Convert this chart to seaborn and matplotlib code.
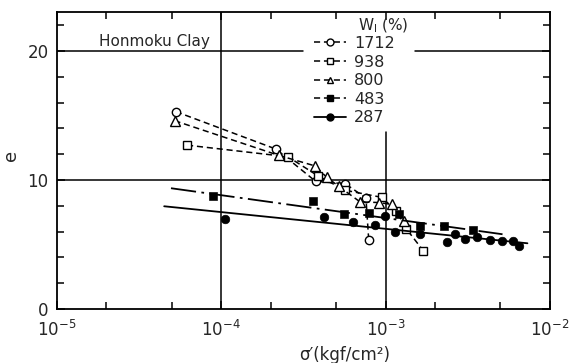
import numpy as np
import pandas as pd
import seaborn as sns
import matplotlib
matplotlib.use('Agg')
import matplotlib.pyplot as plt
from matplotlib.lines import Line2D
from matplotlib.ticker import LogLocator, FixedLocator, MultipleLocator, NullFormatter

# data (sigma' in kgf/cm2, e)
s_1712 = [5.3e-5, 2.15e-4, 3.75e-4, 5.7e-4, 7.6e-4, 7.9e-4]
e_1712 = [15.3, 12.4, 9.9, 9.7, 8.6, 5.35]
s_938 = [6.2e-5, 2.55e-4, 3.9e-4, 5.7e-4, 9.5e-4, 1.16e-3, 1.34e-3, 1.7e-3]
e_938 = [12.7, 11.8, 10.3, 9.2, 8.65, 7.6, 6.2, 4.5]
s_800 = [5.2e-5, 2.25e-4, 3.7e-4, 4.4e-4, 5.2e-4, 7.0e-4, 9.1e-4, 1.1e-3, 1.3e-3]
e_800 = [14.6, 11.9, 11.1, 10.2, 9.5, 8.3, 8.25, 8.1, 6.8]
s_483 = [8.9e-5, 3.6e-4, 5.6e-4, 7.9e-4, 1.2e-3, 1.62e-3, 2.27e-3, 3.4e-3]
e_483 = [8.75, 8.35, 7.35, 7.4, 7.35, 6.45, 6.4, 6.1]
s_287 = [1.05e-4, 4.2e-4, 6.35e-4, 8.6e-4, 9.9e-4, 1.14e-3, 1.63e-3, 2.36e-3, 2.63e-3,
         3.05e-3, 3.6e-3, 4.3e-3, 5.1e-3, 6.0e-3, 6.5e-3]
e_287 = [7.0, 7.1, 6.75, 6.5, 7.2, 5.95, 5.8, 5.2, 5.8, 5.4, 5.55, 5.35, 5.3, 5.3, 4.88]
# fitted lines
fit_483_s = [4.95e-5, 5.15e-3]
fit_483_e = [9.36, 5.79]
fit_287_s = [4.5e-5, 7.3e-3]
fit_287_e = [7.96, 5.09]
labels = ['1712', '938', '800', '483', '287']

sns.set_style('ticks')
plt.rcParams['font.family'] = ['DejaVu Sans']

fig = plt.figure(figsize=(5.74, 3.63), dpi=100)
ax = fig.add_axes([0.099, 0.149, 0.859, 0.817])
ax.set_xscale('log')

dash = (0, (4, 2.5))
# grid lines (partly hidden behind legend in the original)
ax.axhline(10, color='k', lw=1.1, zorder=1)
ax.axhline(20, xmax=0.499, color='k', lw=1.1, zorder=1)
ax.axhline(20, xmin=0.726, color='k', lw=1.1, zorder=1)
ax.axvline(1e-4, color='k', lw=1.1, zorder=1)
ax.axvline(1e-3, ymax=13.75 / 23, color='k', lw=1.1, zorder=1)

sns.lineplot(x=s_1712, y=e_1712, ax=ax, sort=False, estimator=None, color='k', lw=1.1,
             linestyle=dash, marker='o', markersize=6, markerfacecolor='white',
             markeredgecolor='k', markeredgewidth=1)
sns.lineplot(x=s_938, y=e_938, ax=ax, sort=False, estimator=None, color='k', lw=1.1,
             linestyle=dash, marker='s', markersize=6, markerfacecolor='white',
             markeredgecolor='k', markeredgewidth=1)
sns.lineplot(x=s_800, y=e_800, ax=ax, sort=False, estimator=None, color='k', lw=1.1,
             linestyle=dash, marker='^', markersize=6.5, markerfacecolor='white',
             markeredgecolor='k', markeredgewidth=1)
sns.lineplot(x=fit_483_s, y=fit_483_e, ax=ax, color='k', lw=1.3,
             linestyle=(0, (14, 3, 1.5, 3)))
sns.lineplot(x=fit_287_s, y=fit_287_e, ax=ax, color='k', lw=1.3)
sns.scatterplot(x=s_483, y=e_483, ax=ax, color='k', marker='s', s=30, edgecolor='k', zorder=3)
sns.scatterplot(x=s_287, y=e_287, ax=ax, color='k', marker='o', s=38, edgecolor='k', zorder=3)

ax.set_xlim(1e-5, 1e-2)
ax.set_ylim(0, 23)
ax.xaxis.set_major_locator(LogLocator(base=10, numticks=10))
ax.xaxis.set_minor_locator(LogLocator(base=10, subs=(2, 5), numticks=10))
ax.xaxis.set_minor_formatter(NullFormatter())
ax.yaxis.set_major_locator(FixedLocator([0, 10, 20]))
ax.yaxis.set_minor_locator(MultipleLocator(2))
ax.tick_params(which='both', direction='in', top=True, right=True, width=1.1,
               labelsize=12, color='k')
ax.tick_params(which='major', length=6)
ax.tick_params(which='minor', length=5)
ax.tick_params(axis='x', pad=8)
ax.tick_params(axis='y', pad=6)
for sp in ax.spines.values():
    sp.set_linewidth(1.3)
    sp.set_color('k')

ax.set_xlabel("σ′(kgf/cm²)", fontsize=12)
ax.xaxis.set_label_coords(0.584, -0.125)
ax.set_ylabel("e", fontsize=13)
ax.yaxis.set_label_coords(-0.075, 0.517)

ax.text(0.085, 0.902, "Honmoku Clay", transform=ax.transAxes, fontsize=11,
        va='center', ha='left')

handles = [
    Line2D([], [], color='k', lw=1.1, linestyle=dash, marker='o', markersize=5,
           markerfacecolor='white'),
    Line2D([], [], color='k', lw=1.1, linestyle=dash, marker='s', markersize=5,
           markerfacecolor='white'),
    Line2D([], [], color='k', lw=1.1, linestyle=dash, marker='^', markersize=5,
           markerfacecolor='white'),
    Line2D([], [], color='k', lw=1.1, linestyle=dash, marker='s', markersize=4.5),
    Line2D([], [], color='k', lw=1.3, marker='o', markersize=5),
]
ax.legend(handles, labels, loc='upper left', bbox_to_anchor=(0.522, 0.92),
          frameon=False, fontsize=11.5, handlelength=2.0, handletextpad=0.5,
          labelspacing=0.22, borderaxespad=0, borderpad=0)
ax.text(0.61, 0.955, "W$_{\\mathrm{l}}$ (%)", transform=ax.transAxes, fontsize=11,
        va='center', ha='left')

fig.savefig('out.png', dpi=100)
